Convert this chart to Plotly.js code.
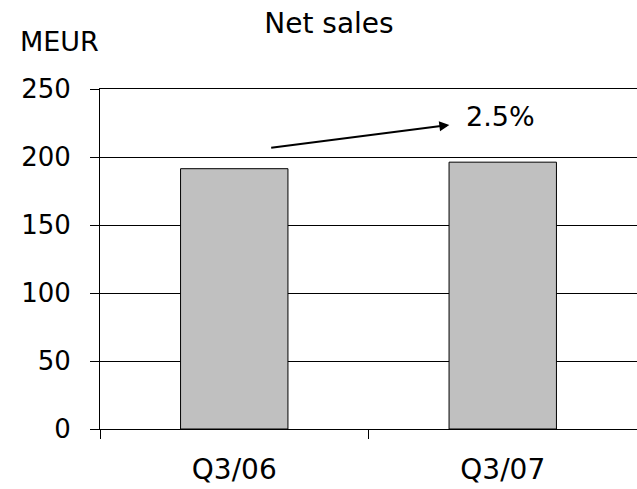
<!DOCTYPE html>
<html>
<head>
<meta charset="utf-8">
<script src="https://cdn.plot.ly/plotly-3.0.1.min.js"></script>
<style>html,body{margin:0;padding:0;background:#fff;}#chart{width:637px;height:489px;}</style>
</head>
<body>
<div id="chart"></div>
<script>
const categories = ["Q3/06", "Q3/07"];
const netSales = [191.4, 196.2];
const yTicks = [0, 50, 100, 150, 200, 250];
const growthLabel = "2.5%";

const FONT = "DejaVu Sans, Verdana, sans-serif";

const trace = {
  type: "bar",
  x: categories,
  y: netSales,
  marker: {color: "#c0c0c0", line: {color: "#000", width: 1}},
  hoverinfo: "skip"
};

const layout = {
  width: 637, height: 489,
  margin: {l: 100, r: 0, t: 89, b: 60, pad: 0},
  paper_bgcolor: "#fff", plot_bgcolor: "#fff",
  showlegend: false,
  bargap: 0.6,
  font: {family: FONT, color: "#000", size: 26},
  title: {text: "Net sales", x: 329/637, xref: "container", xanchor: "center",
          y: 1 - 23/489, yref: "container", yanchor: "middle",
          font: {family: FONT, size: 28, color: "#000"}},
  xaxis: {
    type: "category", range: [-0.5, 1.5], tickson: "boundaries",
    ticks: "outside", ticklen: 9, tickcolor: "#000", tickwidth: 1,
    showline: true, linecolor: "#000", linewidth: 1, mirror: true,
    showgrid: false, zeroline: false,
    tickfont: {family: FONT, size: 28, color: "#000"},
    ticklabelstandoff: 15
  },
  yaxis: {
    range: [0, 250], tickvals: yTicks, ticktext: yTicks.map(String),
    ticks: "outside", ticklen: 9, tickcolor: "#000", tickwidth: 1,
    showline: true, linecolor: "#000", linewidth: 1,
    showgrid: true, gridcolor: "#000", gridwidth: 1,
    zeroline: false,
    tickfont: {family: FONT, size: 26, color: "#000"},
    ticklabelstandoff: 14
  },
  annotations: [
    {xref: "paper", yref: "paper", x: (18-100)/537, y: 1 + (89-41)/340,
     xanchor: "left", yanchor: "middle", text: "MEUR", showarrow: false,
     font: {family: FONT, size: 27, color: "#000"}},
    {xref: "x", yref: "y", x: 0.801, y: 223.6, ax: 0.132, ay: 206.7,
     axref: "x", ayref: "y", text: "", showarrow: true,
     arrowhead: 2, arrowsize: 1, arrowwidth: 2, arrowcolor: "#000"},
    {xref: "x", yref: "y", x: 0.857, y: 229.6, xanchor: "left", yanchor: "middle",
     text: growthLabel, showarrow: false,
     font: {family: FONT, size: 27, color: "#000"}}
  ]
};

Plotly.newPlot("chart", [trace], layout, {staticPlot: true, displayModeBar: false});
</script>
</body>
</html>
